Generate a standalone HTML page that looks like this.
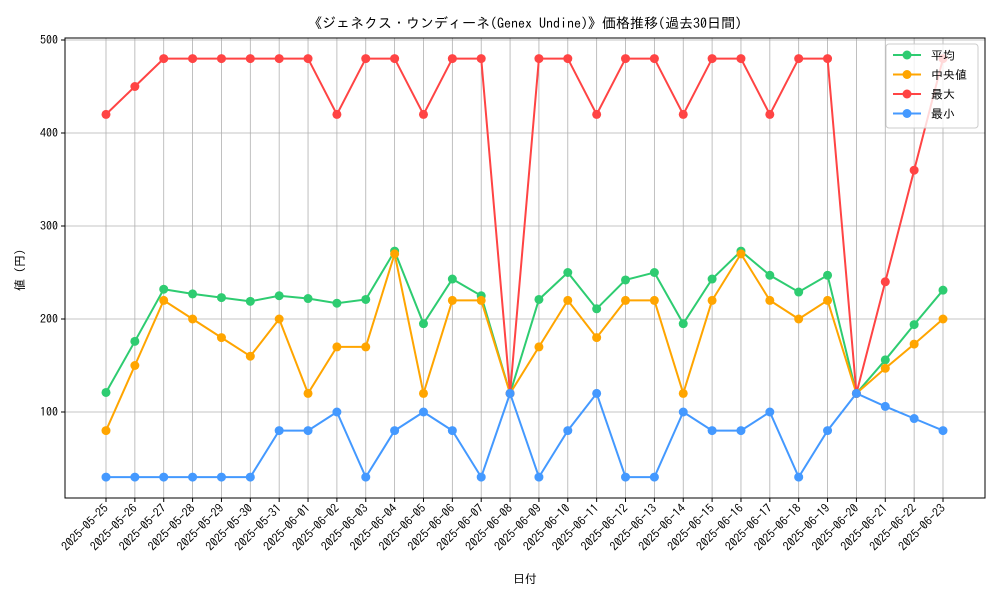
<!DOCTYPE html>
<html><head><meta charset="utf-8"><style>
body{margin:0;background:#fff}
svg text{font-family:"IPAGothic","Noto Sans CJK JP",sans-serif;fill:#000}
</style></head><body>
<svg id="chart" width="1000" height="600" xmlns="http://www.w3.org/2000/svg">
<rect width="1000" height="600" fill="#fff"/>
<text x="525" y="28" font-size="14" text-anchor="middle">《ジェネクス・ウンディーネ(Genex Undine)》価格推移(過去30日間)</text>
<g id="grid"></g><g id="axes"></g><g id="series"></g>
<text x="525" y="583" font-size="12" text-anchor="middle">日付</text>
<text transform="translate(24,270) rotate(-90)" font-size="12" text-anchor="middle">値 (円)</text>
<g id="legend"></g>
</svg>
<script>
const dates=["2025-05-25","2025-05-26","2025-05-27","2025-05-28","2025-05-29","2025-05-30","2025-05-31","2025-06-01","2025-06-02","2025-06-03","2025-06-04","2025-06-05","2025-06-06","2025-06-07","2025-06-08","2025-06-09","2025-06-10","2025-06-11","2025-06-12","2025-06-13","2025-06-14","2025-06-15","2025-06-16","2025-06-17","2025-06-18","2025-06-19","2025-06-20","2025-06-21","2025-06-22","2025-06-23"];
const meanVals=[121,176,232,227,223,219,225,222,217,221,273,195,243,225,120,221,250,211,242,250,195,243,273,247,229,247,120,156,194,231];
const medianVals=[80,150,220,200,180,160,200,120,170,170,270,120,220,220,120,170,220,180,220,220,120,220,270,220,200,220,120,147,173,200];
const maxVals=[420,450,480,480,480,480,480,480,420,480,480,420,480,480,120,480,480,420,480,480,420,480,480,420,480,480,120,240,360,480];
const minVals=[30,30,30,30,30,30,80,80,100,30,80,100,80,30,120,30,80,120,30,30,100,80,80,100,30,80,120,106,93,80];
const yTicks=[100,200,300,400,500];
const L=65,R=985,T=38,B=498;
const x=i=>106+i*(943-106)/(dates.length-1);
const y=v=>412-(v-100)*0.93;
const NS="http://www.w3.org/2000/svg";
function mk(tag,attrs,parent){const e=document.createElementNS(NS,tag);for(const k in attrs)e.setAttribute(k,attrs[k]);parent.appendChild(e);return e;}
const grid=document.getElementById('grid'),axes=document.getElementById('axes'),ser=document.getElementById('series'),leg=document.getElementById('legend');
dates.forEach((d,i)=>{
 const g=mk('line',{x1:x(i),x2:x(i),y1:T,y2:B,stroke:'#b0b0b0','stroke-width':0.8},grid);
 
 
 mk('line',{x1:x(i),x2:x(i),y1:B,y2:B+4,stroke:'#000'},axes);
 const t=mk('text',{x:x(i)+3,y:B+11,'font-size':12,'text-anchor':'end',transform:`rotate(-45 ${x(i)+3} ${B+11})`},axes);
 
 
 t.textContent=d;
});
yTicks.forEach(v=>{
 const g=mk('line',{x1:L,x2:R,y1:y(v),y2:y(v),stroke:'#b0b0b0','stroke-width':0.8},grid);
 
 
 mk('line',{x1:L-4,x2:L,y1:y(v),y2:y(v),stroke:'#000'},axes);
 const t=mk('text',{x:L-7,y:y(v)+4,'font-size':12,'text-anchor':'end'},axes);
 
 
 t.textContent=v;
});
const fr=mk('rect',{x:L,y:T,width:R-L,height:B-T,fill:'none',stroke:'#000','stroke-width':1},axes);


const series=[["平均",meanVals,"#2ecc71","mean"],["中央値",medianVals,"#ffa500","median"],["最大",maxVals,"#ff4444","max"],["最小",minVals,"#4499ff","min"]];
series.forEach(([name,vals,col,key],si)=>{
 const g=mk('g',{},ser);
 
 
 const p=mk('polyline',{points:vals.map((v,i)=>x(i)+','+y(v)).join(' '),fill:'none',stroke:col,'stroke-width':2},g);
 
 
 vals.forEach((v,i)=>{
  const c=mk('circle',{cx:x(i),cy:y(v),r:4.5,fill:col},g);
  
  
 });
 const ly=55+si*19.5;
 const e=mk('g',{},leg);
 
 
 mk('line',{x1:893,x2:921,y1:ly,y2:ly,stroke:col,'stroke-width':2},e);
 mk('circle',{cx:907,cy:ly,r:4.5,fill:col},e);
 const t=mk('text',{x:931,y:ly+4.5,'font-size':12},e);
 t.textContent=name;
});
leg.insertBefore(mk('rect',{x:886,y:44,width:92,height:84,rx:3,fill:'#fff','fill-opacity':0.8,stroke:'#ccc'},leg),leg.firstChild);
</script>
</body></html>
